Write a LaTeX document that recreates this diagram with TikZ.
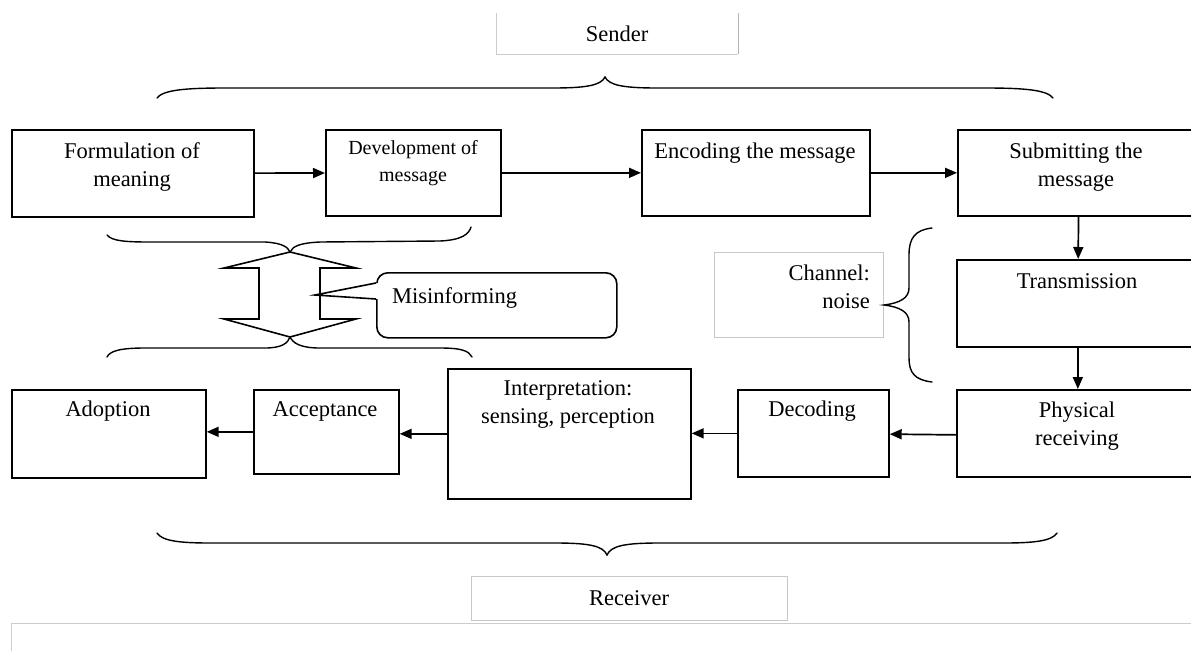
\documentclass[tikz,border=0pt]{standalone}
\usepackage{fontspec}
\setmainfont{Liberation Serif}
\usetikzlibrary{arrows.meta}
\begin{document}
\begin{tikzpicture}[x=1pt,y=-1pt,
  box/.style={draw, line width=1.7pt, anchor=north west, inner sep=0pt},
  txt/.style={font=\fontsize{22.5}{28}\selectfont, align=center, inner sep=0pt},
  smalltxt/.style={font=\fontsize{20}{27}\selectfont, align=center, inner sep=0pt},
  flow/.style={line width=1.7pt, -{Triangle[length=12pt,width=10pt]}},
  curly/.style={line width=1.4pt, line cap=round},
  frame/.style={draw=black!22, line width=1pt}]
\useasboundingbox (0,0) rectangle (1191,651);
\clip (0,0) rectangle (1191,651);

% --- sender side ---
\node[box, minimum width=242pt, minimum height=87pt] (form) at (11,129) {};
\node[box, minimum width=175pt, minimum height=86pt] (dev) at (325,129) {};
\node[box, minimum width=228pt, minimum height=86pt] (enc) at (641,129) {};
\node[box, minimum width=242pt, minimum height=86pt] (sub) at (957,129) {};
\node[txt] (form-t) at (132,167) {Formulation of\\meaning};
\node[smalltxt] (dev-t) at (413,163) {Development of\\message};
\node[txt] (enc-t) at (755,153) {Encoding the message};
\node[txt] (sub-t) at (1076,167) {Submitting the\\message};

% --- channel ---
\node[box, minimum width=242pt, minimum height=87pt] (trans) at (956,259) {};
\node[txt] (trans-t) at (1077,281) {Transmission};
\node[frame, anchor=north west, minimum width=169pt, minimum height=85pt, inner sep=0pt] (chan) at (714,252) {};
\node[txt, align=right, anchor=east] (chan-t) at (870,287) {Channel:\\noise};

% --- receiver side ---
\node[box, minimum width=242pt, minimum height=87pt] (phys) at (956,389) {};
\node[box, minimum width=151pt, minimum height=87pt] (dec) at (737,389) {};
\node[box, minimum width=243pt, minimum height=130pt] (interp) at (447,368) {};
\node[box, minimum width=145pt, minimum height=84pt] (acc) at (253,389) {};
\node[box, minimum width=194pt, minimum height=88pt] (adopt) at (11,389) {};
\node[txt] (phys-t) at (1077,426) {Physical\\receiving};
\node[txt] (dec-t) at (812,411) {Decoding};
\node[txt] (interp-t) at (568,404) {Interpretation:\\sensing, perception};
\node[txt] (acc-t) at (325,411) {Acceptance};
\node[txt] (adopt-t) at (108,411) {Adoption};

% --- flow of the message ---
\draw[flow] (form) -- (dev);
\draw[flow] (dev) -- (enc);
\draw[flow] (enc) -- (sub);
\draw[flow] (sub) -- (trans);
\draw[flow] (trans) -- (phys);
\draw[flow] ([yshift=-1.5pt]phys.west) -- (dec);
\draw[flow] (dec.west) -- (dec.west -| interp.east);
\draw[flow] (interp.west) -- (interp.west -| acc.east);
\draw[flow] (acc.west) -- (acc.west -| adopt.east);

% --- labels of the two parties ---
\draw[draw=black!20, line width=1pt] (496,13) -- (496,54) -- (738,54);
\draw[draw=black!30, line width=1pt] (738,13) -- (738,54);
\node[txt] (sender) at (617,34) {Sender};
\node[frame, anchor=north west, minimum width=316pt, minimum height=44pt, inner sep=0pt] (recvbox) at (471,576) {};
\node[txt] (recv) at (629,598) {Receiver};
\draw[draw=black!20, line width=1pt] (11,651) -- (11,623) -- (1191,623);

% --- braces ---
\draw[curly] (157,98) .. controls (163,90) and (185,88) .. (225,88) -- (553,88)
  .. controls (588,88) and (601,85) .. (605,77)
  .. controls (609,85) and (622,88) .. (657,88) -- (985,88)
  .. controls (1025,88) and (1047,90) .. (1053,98);
\draw[curly] (157,533) .. controls (162,541) and (180,543) .. (210,543) -- (555,543)
  .. controls (590,543) and (603,546) .. (607,555)
  .. controls (611,546) and (624,543) .. (659,543) -- (1004,543)
  .. controls (1034,543) and (1052,541) .. (1057,533);
\draw[curly] (107,235) .. controls (112,241) and (125,242) .. (150,242) -- (265,242)
  .. controls (282,243) and (288,247) .. (290,252)
  .. controls (293,246) and (300,243) .. (320,242) -- (440,241)
  .. controls (462,240) and (469,234) .. (471,227);
\draw[curly] (107,357) .. controls (110,351) and (120,348) .. (145,348) -- (265,348)
  .. controls (282,348) and (288,343) .. (290,337)
  .. controls (293,343) and (300,348) .. (320,348) -- (440,348)
  .. controls (462,348) and (469,351) .. (472,357);
\draw[curly] (932,228) .. controls (915,230) and (909,238) .. (909,255) -- (909,288)
  .. controls (909,298) and (900,303) .. (884,305)
  .. controls (900,307) and (909,312) .. (909,322) -- (909,358)
  .. controls (909,373) and (915,380) .. (932,382);

% --- two-way arrow between the braces ---
\draw[line width=1.6pt, line join=miter] (290,252) -- (356,268) -- (320,268) -- (320,319)
  -- (356,319) -- (290,337) -- (224,319) -- (259,319) -- (259,268) -- (224,268) -- cycle;

% --- callout ---
\node[draw, line width=1.6pt, rounded corners=11pt, anchor=north west,
      minimum width=240pt, minimum height=65pt, inner sep=0pt] (mis) at (376,272) {};
\fill[white] (378,283) -- (315,295) -- (378,299) -- cycle;
\draw[line width=1.6pt] (376,283) -- (315,295) -- (376,299);
\node[txt, anchor=west] (mis-t) at (392,298) {Misinforming};
\end{tikzpicture}
\end{document}
